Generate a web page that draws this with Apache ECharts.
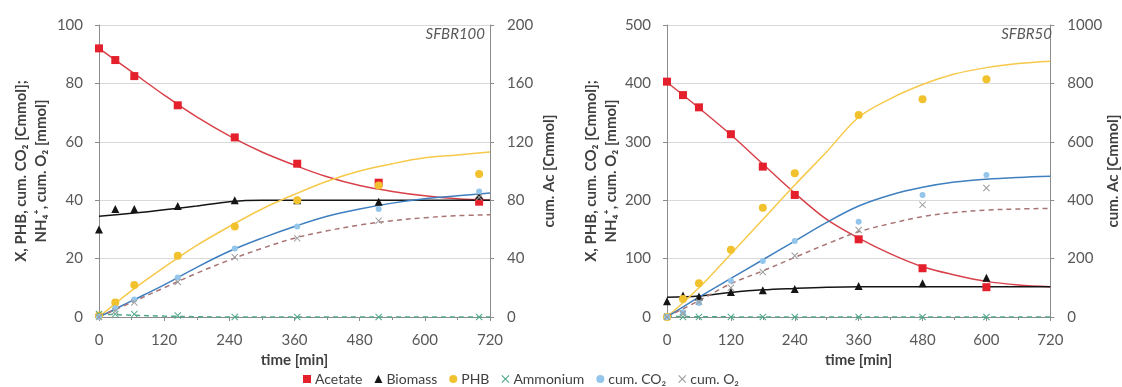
<!DOCTYPE html>
<html>
<head>
<meta charset="utf-8">
<script src="https://cdn.jsdelivr.net/npm/echarts@6/dist/echarts.min.js"></script>
<style>
  html, body { margin: 0; padding: 0; background: #fff; }
  #chart { width: 1122px; height: 387px; }
</style>
</head>
<body>
<div id="chart"></div>
<script>
// ---- SFBR100: measured samples ----
const timesA     = [0, 30, 65, 145, 250, 365, 515, 700];
const acetateA   = [184, 176, 165, 145, 123, 105, 92, 79];   // cum. Ac [Cmmol], right axis
const biomassA   = [30, 37, 37, 38, 40, 40, 39.5, 41.5];
const phbA       = [0.5, 5, 11, 21, 31, 40, 45, 49];
const ammoniumA  = [1, 1, 1, 0.5, 0, 0, 0, 0];
const co2A       = [0, 3, 6, 13.5, 23.5, 31, 37, 43];
const o2A        = [0, 2, 5, 12, 20.5, 27, 33, 41];

// ---- model curves (both panels share the time grid) ----
const timesFit   = [0, 60, 120, 180, 240, 300, 360, 420, 480, 540, 600, 660, 720];
const acetateFitA  = [184, 168, 152, 137, 124, 113, 104, 96, 90, 86, 83, 81, 80];
const biomassFitA  = [34.5, 35.5, 36.7, 38, 39.5, 40, 40, 40, 40, 40, 40, 40, 40];
const phbFitA      = [0, 9, 17, 24.5, 31, 37, 42, 46.5, 50, 52.5, 54.5, 55.5, 56.5];
const ammoniumFitA = [1, 0.6, 0.3, 0.1, 0, 0, 0, 0, 0, 0, 0, 0, 0];
const co2FitA      = [0, 5.5, 11, 17, 22.5, 27, 31, 34.5, 37, 39, 40.5, 41.5, 42.5];
const o2FitA       = [0, 5, 10, 15, 19.5, 23.5, 27, 29.5, 31.5, 33, 34, 34.7, 35];

// ---- SFBR50: measured samples ----
const timesB     = [0, 30, 60, 120, 180, 240, 360, 480, 600];
const acetateB   = [806, 760, 718, 626, 515, 418, 266, 167, 102];
const biomassB   = [27, 37, 35, 43, 46, 48, 53, 58, 67];
const phbB       = [0, 31, 58, 115, 187, 246, 346, 373, 407];
const ammoniumB  = [1, 0, 0, 0, 0, 0, 0, 0, 0];
const co2B       = [0, 8, 24, 62, 96, 130, 163, 209, 243];
const o2B        = [0, 6, 26, 50, 77, 105, 149, 192, 221];

const acetateFitB  = [804, 716, 624, 524, 424, 334, 270, 216, 172, 144, 122, 110, 104];
const biomassFitB  = [34, 36, 42, 46.5, 49, 51, 52, 52, 52, 52, 52, 52, 52];
const phbFitB      = [0, 50, 108, 167, 226, 283, 342, 374, 398, 416, 427, 434, 438];
const ammoniumFitB = [1, 0.5, 0.2, 0, 0, 0, 0, 0, 0, 0, 0, 0, 0];
const co2FitB      = [0, 34, 66, 98, 130, 162, 190, 209, 222, 231, 236, 239, 241];
const o2FitB       = [0, 28, 57, 79, 102, 125, 146, 160, 172, 179, 183, 185, 186];

const xTicks = { min: 0, max: 720, interval: 120 };
const panelTitles = ['SFBR100', 'SFBR50'];
const leftAxisA  = { min: 0, max: 100, interval: 20 };
const rightAxisA = { min: 0, max: 200, interval: 40 };
const leftAxisB  = { min: 0, max: 500, interval: 100 };
const rightAxisB = { min: 0, max: 1000, interval: 200 };

const FONT = 'Lato, "Open Sans", sans-serif';
const C = {
  acetate: '#E3202B', acetateLine: '#D8414A',
  biomass: '#151515',
  phb: '#F2C12E', phbLine: '#F6C94A',
  ammonium: '#4FA88A',
  co2: '#93C6EA', co2Line: '#3F7FBF',
  o2: '#9C9C9C', o2Line: '#A97474'
};
const crossPath = 'path://M1,0L5,4L9,0L10,1L6,5L10,9L9,10L5,6L1,10L0,9L4,5L0,1Z';
const AXIS_GRAY = '#8C8C8C';
const tickText = { fontFamily: FONT, fontSize: 15, color: '#595959', formatter: v => String(v) };
const titleText = { fontFamily: FONT, fontWeight: 'bold', fontSize: 15, color: '#404040' };

const pairs = (xs, ys) => xs.map((x, i) => [x, ys[i]]);

function xAxisDef(gridIndex) {
  return {
    type: 'value', gridIndex, min: xTicks.min, max: xTicks.max, interval: xTicks.interval,
    name: 'time [min]', nameLocation: 'middle', nameGap: 36,
    nameTextStyle: titleText,
    axisLine: { onZero: false, lineStyle: { color: AXIS_GRAY } },
    axisTick: { show: true, length: 4, lineStyle: { color: AXIS_GRAY } },
    minorTick: { show: true, splitNumber: 2, length: 3, lineStyle: { color: AXIS_GRAY } },
    axisLabel: { ...tickText, margin: 16 },
    splitLine: { show: false }
  };
}

const leftName = 'X, PHB, cum. CO₂ [Cmmol];\nNH₄⁺, cum. O₂ [mmol]';
function yLeft(gridIndex, rng, gap) {
  return {
    type: 'value', gridIndex, position: 'left', ...rng,
    name: leftName, nameLocation: 'middle', nameRotate: 90, nameGap: gap,
    nameTextStyle: { ...titleText, lineHeight: 20, align: 'center' },
    axisLine: { show: true, lineStyle: { color: AXIS_GRAY } },
    axisTick: { show: true, length: 4, lineStyle: { color: AXIS_GRAY } },
    axisLabel: { ...tickText, margin: 16 },
    splitLine: { show: true, lineStyle: { color: '#D9D9D9' } }
  };
}
function yRight(gridIndex, rng) {
  return {
    type: 'value', gridIndex, position: 'right', ...rng,
    name: 'cum. Ac [Cmmol]', nameLocation: 'middle', nameRotate: 90, nameGap: 52,
    nameTextStyle: titleText,
    axisLine: { show: true, lineStyle: { color: AXIS_GRAY } },
    axisTick: { show: true, length: 4, lineStyle: { color: AXIS_GRAY } },
    axisLabel: { ...tickText, margin: 17 },
    splitLine: { show: false }
  };
}

function panelSeries(p, xi, yl, yr) {
  const line = (data, color, yAxisIndex, dashed) => ({
    type: 'line', xAxisIndex: xi, yAxisIndex, data, smooth: 0.35, symbol: 'none', silent: true, z: 2,
    lineStyle: { color, width: 1.5, type: dashed ? [5, 4] : 'solid' }
  });
  const pts = (name, data, symbol, size, color, yAxisIndex) => ({
    type: 'scatter', name, xAxisIndex: xi, yAxisIndex, data, symbol, symbolSize: size, z: 5,
    itemStyle: { color, opacity: 1 }
  });
  return [
    line(pairs(timesFit, p.acetateFit), C.acetateLine, yr),
    line(pairs(timesFit, p.biomassFit), C.biomass, yl),
    line(pairs(timesFit, p.phbFit), C.phbLine, yl),
    line(pairs(timesFit, p.ammoniumFit), C.ammonium, yl, true),
    line(pairs(timesFit, p.co2Fit), C.co2Line, yl),
    line(pairs(timesFit, p.o2Fit), C.o2Line, yl, true),
    pts('Acetate', pairs(p.t, p.acetate), 'rect', 8, C.acetate, yr),
    pts('Biomass', pairs(p.t, p.biomass), 'triangle', 8, C.biomass, yl),
    pts('PHB', pairs(p.t, p.phb), 'circle', 8, C.phb, yl),
    pts('Ammonium', pairs(p.t, p.ammonium), crossPath, 7, C.ammonium, yl),
    pts('cum. CO₂', pairs(p.t, p.co2), 'circle', 6, C.co2, yl),
    pts('cum. O₂', pairs(p.t, p.o2), crossPath, 7, C.o2, yl)
  ];
}

const panelA = { t: timesA, acetate: acetateA, biomass: biomassA, phb: phbA, ammonium: ammoniumA, co2: co2A, o2: o2A,
  acetateFit: acetateFitA, biomassFit: biomassFitA, phbFit: phbFitA, ammoniumFit: ammoniumFitA, co2Fit: co2FitA, o2Fit: o2FitA };
const panelB = { t: timesB, acetate: acetateB, biomass: biomassB, phb: phbB, ammonium: ammoniumB, co2: co2B, o2: o2B,
  acetateFit: acetateFitB, biomassFit: biomassFitB, phbFit: phbFitB, ammoniumFit: ammoniumFitB, co2Fit: co2FitB, o2Fit: o2FitB };

const panelTitleStyle = { fontFamily: FONT, fontStyle: 'italic', fontWeight: 'normal', fontSize: 15, color: '#595959' };

const chart = echarts.init(document.getElementById('chart'), null, { renderer: 'canvas' });
chart.setOption({
  animation: false,
  backgroundColor: '#fff',
  textStyle: { fontFamily: FONT },
  title: [
    { text: panelTitles[0], right: 637, top: 27, padding: 0, textStyle: panelTitleStyle },
    { text: panelTitles[1], right: 70, top: 27, padding: 0, textStyle: panelTitleStyle }
  ],
  grid: [
    { left: 99, right: 632, top: 25, bottom: 70 },
    { left: 667, right: 65, top: 25, bottom: 70 }
  ],
  xAxis: [xAxisDef(0), xAxisDef(1)],
  yAxis: [yLeft(0, leftAxisA, 48), yRight(0, rightAxisA), yLeft(1, leftAxisB, 46), yRight(1, rightAxisB)],
  legend: {
    data: ['Acetate', 'Biomass', 'PHB', 'Ammonium', 'cum. CO₂', 'cum. O₂'],
    left: 303, top: 372, padding: 0, itemWidth: 8, itemHeight: 8, itemGap: 12,
    textStyle: { fontFamily: FONT, fontSize: 14, color: '#404040', padding: [0, 0, 0, -1] }
  },
  series: [...panelSeries(panelA, 0, 0, 1), ...panelSeries(panelB, 1, 2, 3)]
});
</script>
</body>
</html>
